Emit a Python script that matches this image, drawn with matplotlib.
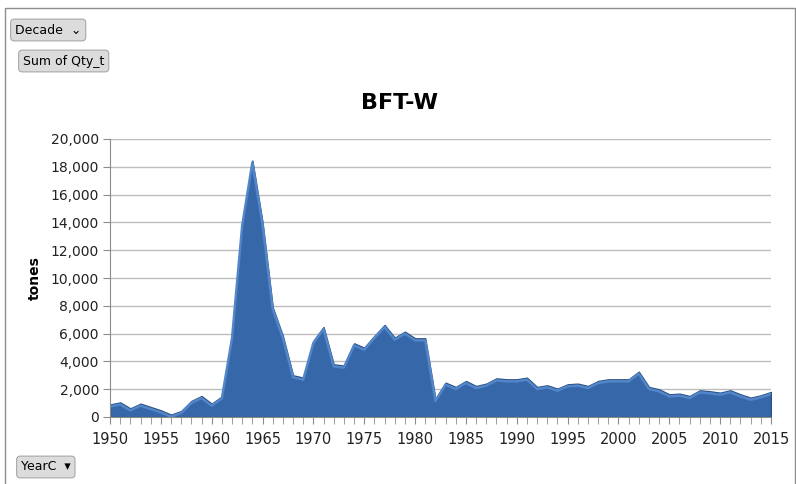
import matplotlib
matplotlib.use('Agg')
import matplotlib.pyplot as plt
from matplotlib.patches import Rectangle
from matplotlib.ticker import FuncFormatter, MultipleLocator
from matplotlib.transforms import offset_copy

# yearly catch, tonnes
years = list(range(1950, 2016))
qty_t = [900, 1050, 620, 960, 720, 480, 170, 430, 1150, 1510,
         960, 1480, 5800, 13900, 18450, 14000, 7900, 5830, 3000, 2830,
         5470, 6470, 3790, 3700, 5300, 4990, 5830, 6620, 5710, 6140,
         5660, 5660, 1300, 2470, 2160, 2590, 2230, 2400, 2780, 2710,
         2710, 2830, 2160, 2280, 2040, 2350, 2400, 2230, 2590, 2710,
         2710, 2710, 3260, 2160, 1990, 1630, 1680, 1510, 1920, 1850,
         1750, 1920, 1630, 1390, 1560, 1800]

title = 'BFT-W'
ylabel = 'tones'
buttons = ['Decade  \u2304', 'Sum of Qty_t', 'YearC  \u25BE']

fig = plt.figure(figsize=(7.96, 4.84), dpi=100)
fig.patch.set_facecolor('white')

# outer chart border
fig.patches.append(Rectangle((5/796, -0.05), 790/796, 1 - 8/484 + 0.05,
                             transform=fig.transFigure, fill=False,
                             edgecolor='#8c8c8c', linewidth=1.0))

ax = fig.add_axes([110/796, 1 - 417/484, 661/796, 278/484])

ax.fill_between(years, qty_t, 0, color='#3667A9', edgecolor='#2A4E80',
                linewidth=1.0, zorder=3)
# lighter bevel just under the top edge
shift = offset_copy(ax.transData, fig=fig, x=0, y=-2, units='dots')
ax.plot(years, qty_t, color='#5286C8', linewidth=1.8, transform=shift,
        zorder=4, solid_joinstyle='round')

ax.set_xlim(1950, 2015)
ax.set_ylim(0, 20000)
ax.xaxis.set_major_locator(MultipleLocator(5))
ax.xaxis.set_minor_locator(MultipleLocator(1))
ax.yaxis.set_major_locator(MultipleLocator(2000))
ax.yaxis.set_major_formatter(FuncFormatter(lambda v, p: f'{int(v):,}'))

ax.grid(axis='y', color='#bdbdbd', linewidth=1.0, zorder=0)
ax.set_axisbelow(True)
for s in ['top', 'right']:
    ax.spines[s].set_visible(False)
for s in ['left', 'bottom']:
    ax.spines[s].set_color('#8c8c8c')
    ax.spines[s].set_zorder(5)

ax.tick_params(axis='x', which='both', length=5, color='#8c8c8c',
               labelsize=10.5, pad=6, labelcolor='#222222')
ax.tick_params(axis='y', length=5, color='#8c8c8c', labelsize=10, pad=3,
               labelcolor='#222222')

ax.set_ylabel(ylabel, fontsize=10, fontweight='bold', labelpad=6)
fig.text(400/796, 1 - 103/484, title, fontsize=16, fontweight='bold',
         ha='center', va='center')

bstyle = dict(boxstyle='round,pad=0.35,rounding_size=0.3', facecolor='#dcdcdc',
              edgecolor='#a8a8a8', linewidth=0.8)
fig.text(15/796, 1 - 30/484, buttons[0], fontsize=9, va='center', bbox=bstyle)
fig.text(23/796, 1 - 61/484, buttons[1], fontsize=9, va='center', bbox=bstyle)
fig.text(21/796, 1 - 467/484, buttons[2], fontsize=9, va='center', bbox=bstyle)

fig.savefig('out.png', dpi=100)
